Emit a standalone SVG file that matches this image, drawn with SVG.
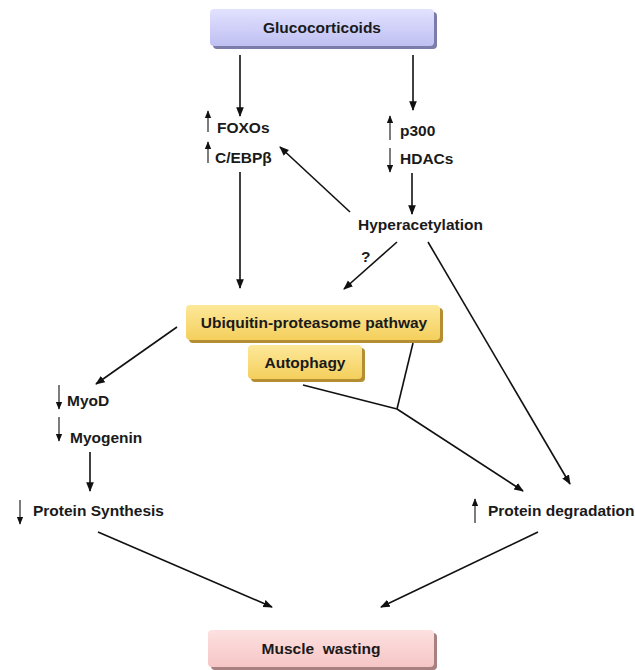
<svg xmlns="http://www.w3.org/2000/svg" width="635" height="670" viewBox="0 0 635 670">
<style>
text{font-family:"Liberation Sans",Arial,sans-serif;font-weight:bold;font-size:15.5px;fill:#1a1a1a}
.box{text-anchor:middle}
.c{stroke:#111;stroke-width:1.6;fill:none}
.s{stroke:#111;stroke-width:1.1;fill:none}
</style>
<defs>
<marker id="ah" viewBox="0 0 10 10" refX="9" refY="5" markerWidth="6" markerHeight="6" orient="auto" markerUnits="strokeWidth"><path d="M0,1 L10,5 L0,9 z" fill="#111"/></marker>
<marker id="sh" viewBox="0 0 10 10" refX="9" refY="5" markerWidth="7.5" markerHeight="7.5" orient="auto" markerUnits="strokeWidth"><path d="M0,1 L10,5 L0,9 z" fill="#111"/></marker>
<linearGradient id="gL" x1="0" y1="0" x2="0" y2="1"><stop offset="0" stop-color="#e2e2ff"/><stop offset="1" stop-color="#bfbff2"/></linearGradient>
<linearGradient id="gY" x1="0" y1="0" x2="0" y2="1"><stop offset="0" stop-color="#fde89a"/><stop offset="1" stop-color="#f4cf5c"/></linearGradient>
<linearGradient id="gP" x1="0" y1="0" x2="0" y2="1"><stop offset="0" stop-color="#fde0e0"/><stop offset="1" stop-color="#f6c6c6"/></linearGradient>
</defs>

<g id="glucocorticoids">
<rect x="213" y="12" width="224" height="37" rx="4" fill="#7c7cab"/>
<rect x="210" y="9" width="224" height="37" rx="4" fill="url(#gL)"/>
<text class="box" x="322" y="33">Glucocorticoids</text>
</g>

<g id="foxos">
<line class="s" x1="208" y1="132" x2="208" y2="111" marker-end="url(#sh)"/>
<text x="217" y="133">FOXOs</text>
</g>
<g id="cebpb">
<line class="s" x1="208" y1="163" x2="208" y2="142" marker-end="url(#sh)"/>
<text x="215" y="163">C/EBPβ</text>
</g>
<g id="p300">
<line class="s" x1="390" y1="140" x2="390" y2="116" marker-end="url(#sh)"/>
<text x="400" y="136">p300</text>
</g>
<g id="hdacs">
<line class="s" x1="390" y1="148" x2="390" y2="172" marker-end="url(#sh)"/>
<text x="400" y="164">HDACs</text>
</g>
<g id="hyperacetylation">
<text x="358" y="230">Hyperacetylation</text>
</g>
<g id="question">
<text x="361" y="262">?</text>
</g>

<g id="ubiquitin-proteasome">
<rect x="189" y="308" width="254" height="35" rx="4" fill="#b58d33"/>
<rect x="186" y="305" width="254" height="35" rx="4" fill="url(#gY)"/>
<text class="box" x="314" y="328">Ubiquitin-proteasome pathway</text>
</g>
<g id="autophagy">
<rect x="251" y="348" width="114" height="34" rx="4" fill="#b58d33"/>
<rect x="248" y="345" width="114" height="34" rx="4" fill="url(#gY)"/>
<text class="box" x="305" y="368">Autophagy</text>
</g>

<g id="myod">
<line class="s" x1="59" y1="385" x2="59" y2="409" marker-end="url(#sh)"/>
<text x="67" y="406">MyoD</text>
</g>
<g id="myogenin">
<line class="s" x1="59" y1="417" x2="59" y2="441" marker-end="url(#sh)"/>
<text x="70" y="443">Myogenin</text>
</g>
<g id="protein-synthesis">
<line class="s" x1="20" y1="500" x2="20" y2="524" marker-end="url(#sh)"/>
<text x="33" y="516">Protein Synthesis</text>
</g>
<g id="protein-degradation">
<line class="s" x1="475" y1="523" x2="475" y2="499" marker-end="url(#sh)"/>
<text x="488" y="516">Protein degradation</text>
</g>

<g id="muscle-wasting">
<rect x="211" y="633" width="226" height="37" rx="4" fill="#a98080"/>
<rect x="208" y="630" width="226" height="37" rx="4" fill="url(#gP)"/>
<text class="box" x="321" y="654" xml:space="preserve">Muscle  wasting</text>
</g>

<g id="connectors">
<line class="c" x1="240" y1="55" x2="240" y2="116" marker-end="url(#ah)"/>
<line class="c" x1="413" y1="55" x2="413" y2="110" marker-end="url(#ah)"/>
<line class="c" x1="412" y1="173" x2="412" y2="214" marker-end="url(#ah)"/>
<line class="c" x1="350" y1="212" x2="280" y2="147" marker-end="url(#ah)"/>
<line class="c" x1="240" y1="172" x2="240" y2="288" marker-end="url(#ah)"/>
<line class="c" x1="397" y1="242" x2="344" y2="289" marker-end="url(#ah)"/>
<line class="c" x1="428" y1="242" x2="570" y2="484" marker-end="url(#ah)"/>
<line class="c" x1="177" y1="327" x2="96" y2="384" marker-end="url(#ah)"/>
<line class="c" x1="90" y1="452" x2="90" y2="491" marker-end="url(#ah)"/>
<polyline class="c" points="413,343 397,409"/>
<polyline class="c" points="303,385 397,409"/>
<line class="c" x1="397" y1="409" x2="523" y2="491" marker-end="url(#ah)"/>
<line class="c" x1="98" y1="532" x2="272" y2="607" marker-end="url(#ah)"/>
<line class="c" x1="538" y1="532" x2="381" y2="607" marker-end="url(#ah)"/>
</g>
</svg>
